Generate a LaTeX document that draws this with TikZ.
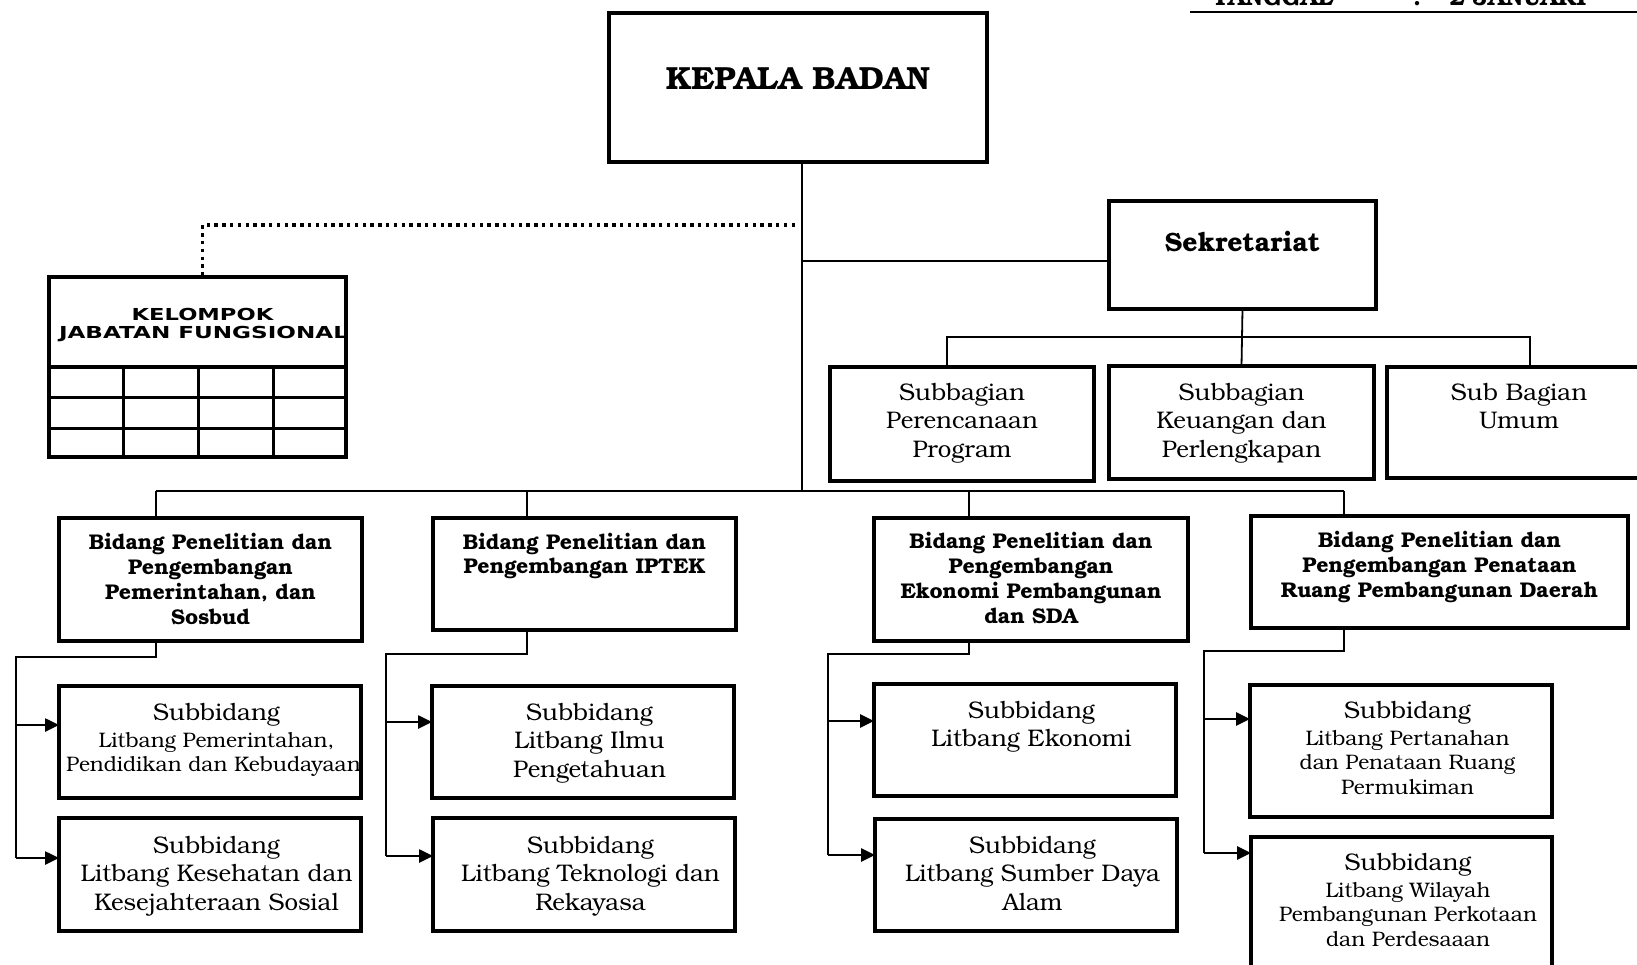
\documentclass[tikz,border=0pt]{standalone}
\usepackage{fontspec}
\setmainfont{texgyrebonum}[Extension=.otf, UprightFont=*-regular, BoldFont=*-bold, ItalicFont=*-italic, BoldItalicFont=*-bolditalic]
\newfontfamily\jabfont{DejaVu Sans}
\usetikzlibrary{arrows.meta,positioning}

\newcommand{\fbig}{\fontsize{24}{28.5}\selectfont}
\newcommand{\fsub}{\fbig\leftskip=13pt plus 1fil}
\newcommand{\fsmall}{\fontsize{21}{24.5}\selectfont}
\newcommand{\fbid}{\fontsize{21.3}{24.7}\selectfont\bfseries}
% width, height, top pad, font, text
\newcommand{\boxtxt}[5]{\parbox[c][#2][t]{#1}{\centering#4\vspace*{#3}\strut#5\par}}

\tikzset{
  org box/.style={
    draw,
    line width=3.5pt,
    inner sep=0pt,
    outer sep=0pt,
    anchor=north west,
  },
  org line/.style={line width=1.8pt},
  org arrow/.style={line width=2.6pt, -{Triangle[length=14pt,width=13pt]}},
  org dots/.style={line width=3.2pt, dash pattern=on 3.4pt off 4.4pt},
}

\begin{document}
\begin{tikzpicture}[x=1pt,y=-1pt]
  \useasboundingbox (0,0) rectangle (1637,964);

  \node[anchor=base west, inner sep=0pt, font=\fontsize{24}{28}\selectfont\bfseries] (tanggal) at (1212,5) {TANGGAL\hspace{80pt}:\hspace{28pt}2 JANUARI};
  \draw[line width=1.8pt] (1190,12) -- (1640,12);

  \node[org box] (kepala) at (609,13) {\boxtxt{378pt}{149pt}{51pt}{\fontsize{32}{37}\selectfont\bfseries}{KEPALA BADAN}};
  \node[org box] (sekre) at (1109,201) {\boxtxt{267pt}{108pt}{29pt}{\fontsize{26.5}{31}\selectfont\bfseries}{Sekretariat}};

  \node[org box] (sbA) at (830,367) {\boxtxt{264pt}{114pt}{13.5pt}{\fbig}{Subbagian\\Perencanaan\\Program}};
  \node[org box] (sbB) at (1109,366) {\boxtxt{265pt}{113pt}{14.5pt}{\fbig}{Subbagian\\Keuangan dan\\Perlengkapan}};
  \node[org box] (sbC) at (1387,367) {\boxtxt{264pt}{111pt}{13.5pt}{\fbig}{Sub Bagian\\Umum}};

  \node[org box] (jab) at (49,277) {\boxtxt{297pt}{180pt}{30.5pt}{\jabfont\bfseries\fontsize{16.5}{18}\selectfont\leftskip=10pt plus 1fil}{\scalebox{1.37}[1]{KELOMPOK}\\\scalebox{1.4}[1]{JABATAN FUNGSIONAL}}};
  \draw[line width=3.5pt] ([yshift=-90pt]jab.north west) -- ([yshift=-90pt]jab.north east);
  \draw[line width=3pt] ([yshift=-120pt]jab.north west) -- ([yshift=-120pt]jab.north east);
  \draw[line width=3pt] ([yshift=-151pt]jab.north west) -- ([yshift=-151pt]jab.north east);
  \draw[line width=3pt] ([xshift=74pt,yshift=-90pt]jab.north west) -- ([xshift=74pt]jab.south west);
  \draw[line width=3pt] ([xshift=149pt,yshift=-90pt]jab.north west) -- ([xshift=149pt]jab.south west);
  \draw[line width=3pt] ([xshift=224pt,yshift=-90pt]jab.north west) -- ([xshift=224pt]jab.south west);

  \node[org box] (bidA) at (59,518) {\boxtxt{303pt}{123pt}{14.7pt}{\fbid}{Bidang Penelitian dan\\Pengembangan\\Pemerintahan, dan\\Sosbud}};
  \node[org box] (bidB) at (433,518) {\boxtxt{303pt}{112pt}{13.7pt}{\fbid}{Bidang Penelitian dan\\Pengembangan IPTEK}};
  \node[org box] (bidC) at (874,518) {\boxtxt{314pt}{123pt}{13.7pt}{\fbid}{Bidang Penelitian dan\\Pengembangan\\Ekonomi Pembangunan\\dan SDA}};
  \node[org box] (bidD) at (1251,516) {\boxtxt{377pt}{112pt}{14.7pt}{\fbid}{Bidang Penelitian dan\\Pengembangan Penataan\\Ruang Pembangunan Daerah}};

  \node[org box] (subA1) at (59,686) {\boxtxt{302pt}{112pt}{14.4pt}{\fsub}{Subbidang\par\vspace{2.5pt}\fsmall Litbang Pemerintahan,\\\hspace*{-6pt}\mbox{Pendidikan dan Kebudayaan}}};
  \node[org box] (subA2) at (59,818) {\boxtxt{302pt}{113pt}{15.4pt}{\fsub}{Subbidang\\Litbang Kesehatan dan\\Kesejahteraan Sosial}};
  \node[org box] (subB1) at (432,686) {\boxtxt{302pt}{112pt}{14.4pt}{\fsub}{Subbidang\\Litbang Ilmu\\Pengetahuan}};
  \node[org box] (subB2) at (433,818) {\boxtxt{302pt}{113pt}{15.4pt}{\fsub}{Subbidang\\Litbang Teknologi dan\\Rekayasa}};
  \node[org box] (subC1) at (874,684) {\boxtxt{302pt}{112pt}{14.4pt}{\fsub}{Subbidang\\Litbang Ekonomi}};
  \node[org box] (subC2) at (875,819) {\boxtxt{302pt}{112pt}{14.4pt}{\fsub}{Subbidang\\Litbang Sumber Daya\\Alam}};
  \node[org box] (subD1) at (1250,685) {\boxtxt{302pt}{132pt}{13.4pt}{\fsub}{Subbidang\par\vspace{2.5pt}\fsmall Litbang Pertanahan\\dan Penataan Ruang\\Permukiman}};
  \node[org box] (subD2) at (1251,837) {\boxtxt{301pt}{153pt}{13.4pt}{\fsub}{Subbidang\par\vspace{2.5pt}\fsmall Litbang Wilayah\\Pembangunan Perkotaan\\dan Perdesaaan}};

  % top part
  \coordinate (trunk) at ([xshift=4pt]kepala.south);
  \coordinate (dotA) at (795,225);
  \draw[org dots] (dotA) -| ([xshift=5pt]jab.north);
  \coordinate (barA) at (156,491);
  \coordinate (barB) at (527,491);
  \coordinate (barC) at (969,491);
  \coordinate (barD) at (1344,491);
  \coordinate (sekreIn) at ([yshift=-6pt]sekre.west);
  \draw[org line] (trunk) -- (trunk |- barA);
  \draw[org line] (sekreIn) -- (sekreIn -| trunk);
  \draw[org line] (sekre.south) -- (sbB.north);
  \coordinate (sbL) at (947,337);
  \coordinate (sbR) at (1530,337);
  \draw[org line] (sbL |- sbA.north) -- (sbL) -- (sbR) -- (sbR |- sbC.north);

  \draw[org line] (barA) -- (barD);
  \draw[org line] (barA) -- (barA |- bidA.north);
  \draw[org line] (barB) -- (barB |- bidB.north);
  \draw[org line] (barC) -- (barC |- bidC.north);
  \draw[org line] (barD) -- (barD |- bidD.north);

  % subbidang links
  \coordinate (railA) at (16,657);
  \coordinate (arrA1) at (16,725);
  \coordinate (arrA2) at (16,858);
  \draw[org line] (barA |- bidA.south) |- (railA) -- (arrA2);
  \draw[org arrow] (arrA1) -- (arrA1 -| subA1.west);
  \draw[org arrow] (arrA2) -- (arrA2 -| subA2.west);

  \coordinate (railB) at (386,654);
  \coordinate (arrB1) at (386,722);
  \coordinate (arrB2) at (386,856);
  \draw[org line] (barB |- bidB.south) |- (railB) -- (arrB2);
  \draw[org arrow] (arrB1) -- (arrB1 -| subB1.west);
  \draw[org arrow] (arrB2) -- (arrB2 -| subB2.west);

  \coordinate (railC) at (828,654);
  \coordinate (arrC1) at (828,721);
  \coordinate (arrC2) at (828,855);
  \draw[org line] (barC |- bidC.south) |- (railC) -- (arrC2);
  \draw[org arrow] (arrC1) -- (arrC1 -| subC1.west);
  \draw[org arrow] (arrC2) -- (arrC2 -| subC2.west);

  \coordinate (railD) at (1204,651);
  \coordinate (arrD1) at (1204,719);
  \coordinate (arrD2) at (1204,853);
  \draw[org line] (barD |- bidD.south) |- (railD) -- (arrD2);
  \draw[org arrow] (arrD1) -- (arrD1 -| subD1.west);
  \draw[org arrow] (arrD2) -- (arrD2 -| subD2.west);
\end{tikzpicture}
\end{document}
